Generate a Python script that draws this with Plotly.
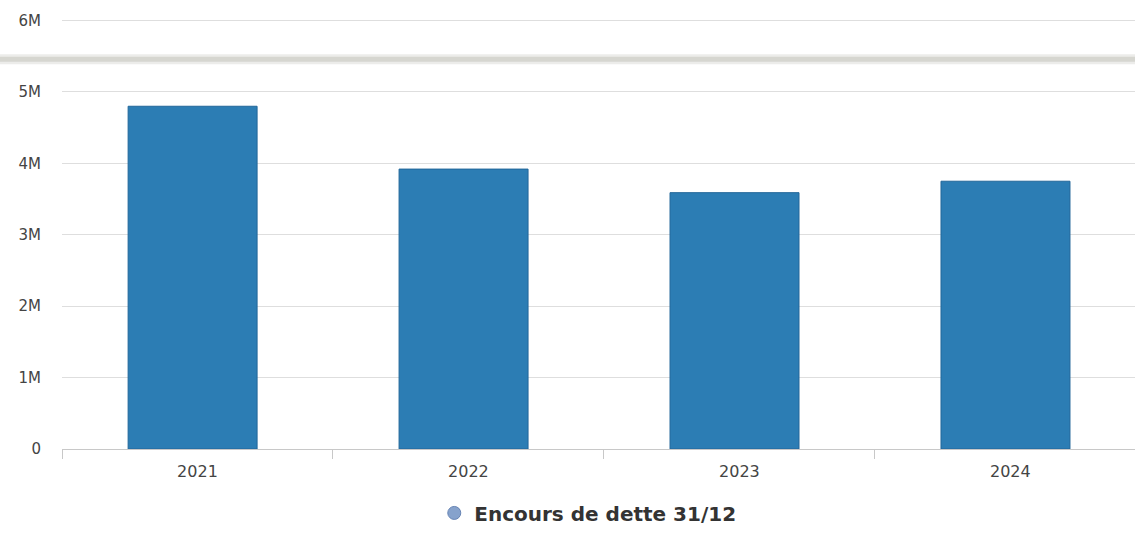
import plotly.graph_objects as go

# Debt outstanding at 31 December, per year
years = ["2021", "2022", "2023", "2024"]
encours = [4_800_000, 3_920_000, 3_590_000, 3_750_000]
series_name = "Encours de dette 31/12"
y_tickvals = [0, 1_000_000, 2_000_000, 3_000_000, 4_000_000, 5_000_000, 6_000_000]
y_ticktext = ["0", "1M", "2M", "3M", "4M", "5M", "6M"]

BAR = "#2c7db4"
FONT = "DejaVu Sans, Verdana, sans-serif"
W, H = 1135, 533
T, B = 17, 76
PLOT_H = H - T - B

fig = go.Figure()
fig.add_trace(go.Bar(
    x=years, y=encours, name=series_name, showlegend=False,
    marker=dict(color=BAR, line=dict(color="#22679a", width=1)),
    width=0.476, offset=-0.256,
))
# round legend symbol
fig.add_trace(go.Scatter(
    x=[None], y=[None], mode="markers", name=series_name,
    marker=dict(symbol="circle", size=13, color="#86a2cc",
                line=dict(color="#6784b4", width=1)),
))

# fold band across the page
fold_y = (H - B - 60) / PLOT_H
fig.update_layout(
    width=W, height=H,
    margin=dict(l=62, r=0, t=T, b=B),
    paper_bgcolor="white", plot_bgcolor="white",
    font=dict(family=FONT, size=14, color="#555555"),
    xaxis=dict(
        type="category", range=[-0.5, 3.46],
        tickson="boundaries", ticks="outside", ticklen=9, tickcolor="#c8c8c8",
        showline=True, linecolor="#c8c8c8", linewidth=1,
        showgrid=False, zeroline=False,
        ticklabelstandoff=8,
        tickfont=dict(size=16, color="#444444"),
    ),
    yaxis=dict(
        range=[0, 6_050_000], tickvals=y_tickvals, ticktext=y_ticktext,
        showgrid=True, gridcolor="#dedede", gridwidth=1,
        zeroline=False, showline=False,
        ticklabelstandoff=20,
        tickfont=dict(size=15, color="#444444"),
    ),
    legend=dict(
        orientation="h", x=0.49, xanchor="center", y=-0.148, yanchor="middle",
        font=dict(family=FONT, size=20, color="#333333", weight="bold"),
        itemwidth=30,
    ),
    bargap=0.52,
    shapes=[
        dict(type="line", xref="paper", yref="paper",
             x0=-0.06, x1=1.0, y0=fold_y, y1=fold_y,
             line=dict(color="#ececea", width=10), layer="above"),
        dict(type="line", xref="paper", yref="paper",
             x0=-0.06, x1=1.0, y0=fold_y, y1=fold_y,
             line=dict(color="#d6d6d0", width=5), layer="above"),
    ],
)

fig.write_html("out.html")
